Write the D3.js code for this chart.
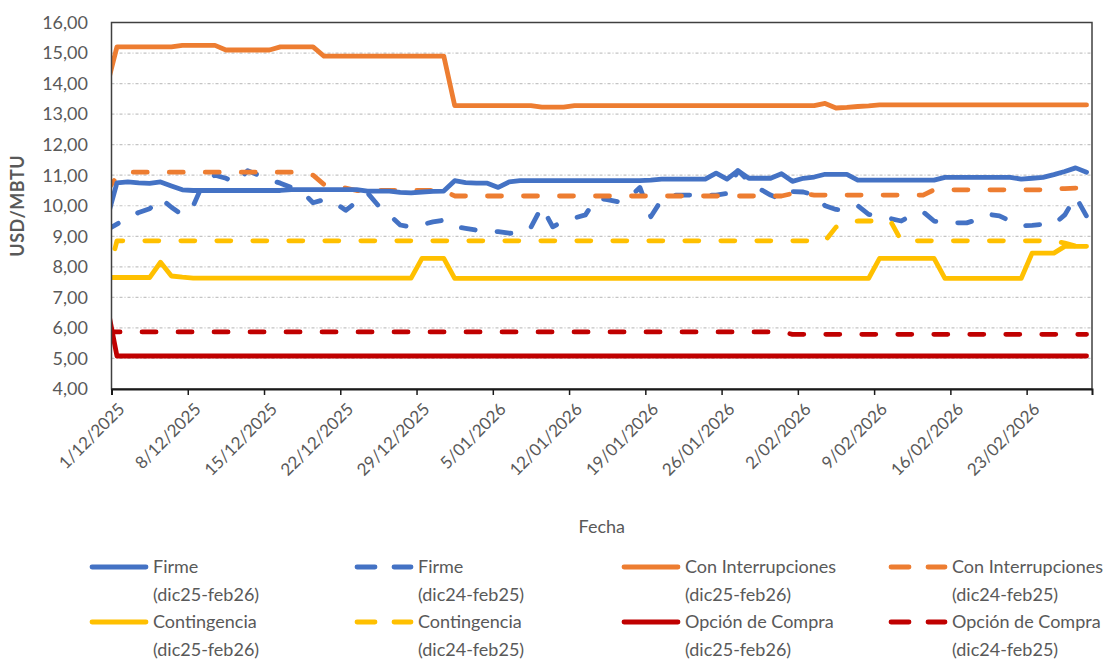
<!DOCTYPE html>
<html>
<head>
<meta charset="utf-8">
<script src="https://cdn.jsdelivr.net/npm/d3@7"></script>
<style>
  body { margin: 0; background: #fff; }
  svg { font-family: Lato, "Open Sans", sans-serif; }
</style>
</head>
<body>
<div id="chart"></div>
<script>
// fechas: 30/11/2025 .. 28/02/2026 (el primer punto queda fuera del eje y se recorta)
var dates = d3.timeDay.range(new Date(2025, 10, 30), new Date(2026, 2, 1));

var tickLabels = ["1/12/2025", "8/12/2025", "15/12/2025", "22/12/2025", "29/12/2025",
    "5/01/2026", "12/01/2026", "19/01/2026", "26/01/2026", "2/02/2026",
    "9/02/2026", "16/02/2026", "23/02/2026"];

var yTicks = [4, 5, 6, 7, 8, 9, 10, 11, 12, 13, 14, 15, 16];

var firme25 = [9.45,
    10.75, 10.78, 10.75, 10.73, 10.78, 10.65, 10.52, 10.50, 10.50, 10.50,
    10.50, 10.50, 10.50, 10.50, 10.50, 10.50, 10.53, 10.53, 10.53, 10.53,
    10.53, 10.53, 10.53, 10.48, 10.48, 10.48, 10.44, 10.42, 10.45, 10.47,
    10.48, 10.82, 10.76, 10.74, 10.74, 10.60, 10.78, 10.82, 10.82, 10.82,
    10.82, 10.82, 10.82, 10.82, 10.82, 10.82, 10.82, 10.82, 10.82, 10.84,
    10.87, 10.87, 10.87, 10.87, 10.87, 11.07, 10.87, 11.15, 10.90, 10.90,
    10.90, 11.05, 10.80, 10.90, 10.94, 11.03, 11.03, 11.03, 10.84, 10.84,
    10.84, 10.84, 10.84, 10.84, 10.84, 10.84, 10.93, 10.93, 10.93, 10.93,
    10.93, 10.93, 10.93, 10.87, 10.90, 10.93, 11.02, 11.12, 11.24, 11.10];

var firme24 = [9.20,
    9.40, 9.60, 9.78, 9.90, 10.25, 9.95, 9.70, 10.00, 10.80, 11.00,
    10.90, 10.75, 11.15, 11.00, 10.85, 10.74, 10.60, 10.45, 10.10, 10.20,
    10.10, 9.85, 10.13, 10.42, 10.00, 9.70, 9.37, 9.30, 9.38, 9.47,
    9.53, 9.32, 9.26, 9.20, 9.20, 9.15, 9.10, 9.10, 9.30, 9.97,
    9.31, 9.50, 9.60, 9.70, 10.25, 10.20, 10.13, 10.25, 10.60, 9.64,
    10.20, 10.35, 10.35, 10.35, 10.35, 10.35, 10.40, 11.15, 10.80, 10.55,
    10.35, 10.20, 10.46, 10.45, 10.35, 10.00, 9.88, 9.85, 10.00, 9.72,
    9.65, 9.58, 9.50, 9.70, 9.80, 9.50, 9.44, 9.44, 9.44, 9.55,
    9.72, 9.67, 9.50, 9.34, 9.36, 9.39, 9.39, 9.70, 10.30, 9.66];

var inter25 = [13.80,
    15.20, 15.20, 15.20, 15.20, 15.20, 15.20, 15.25, 15.25, 15.25, 15.25,
    15.10, 15.10, 15.10, 15.10, 15.10, 15.20, 15.20, 15.20, 15.20, 14.90,
    14.90, 14.90, 14.90, 14.90, 14.90, 14.90, 14.90, 14.90, 14.90, 14.90,
    14.90, 13.28, 13.28, 13.28, 13.28, 13.28, 13.28, 13.28, 13.28, 13.23,
    13.23, 13.23, 13.28, 13.28, 13.28, 13.28, 13.28, 13.28, 13.28, 13.28,
    13.28, 13.28, 13.28, 13.28, 13.28, 13.28, 13.28, 13.28, 13.28, 13.28,
    13.28, 13.28, 13.28, 13.28, 13.28, 13.35, 13.20, 13.22, 13.25, 13.27,
    13.30, 13.30, 13.30, 13.30, 13.30, 13.30, 13.30, 13.30, 13.30, 13.30,
    13.30, 13.30, 13.30, 13.30, 13.30, 13.30, 13.30, 13.30, 13.30, 13.30];

var inter24 = [10.45,
    10.95, 11.10, 11.10, 11.10, 11.10, 11.10, 11.10, 11.10, 11.10, 11.10,
    11.10, 11.10, 11.10, 11.10, 11.10, 11.10, 11.10, 11.10, 11.00, 10.70,
    10.60, 10.58, 10.50, 10.50, 10.50, 10.50, 10.50, 10.50, 10.50, 10.50,
    10.50, 10.32, 10.32, 10.32, 10.32, 10.32, 10.32, 10.32, 10.32, 10.32,
    10.32, 10.32, 10.32, 10.32, 10.32, 10.32, 10.32, 10.32, 10.32, 10.32,
    10.32, 10.32, 10.32, 10.32, 10.32, 10.32, 10.32, 10.32, 10.32, 10.32,
    10.32, 10.32, 10.40, 10.40, 10.35, 10.35, 10.35, 10.35, 10.35, 10.35,
    10.35, 10.35, 10.35, 10.35, 10.35, 10.52, 10.52, 10.52, 10.52, 10.52,
    10.52, 10.52, 10.52, 10.52, 10.52, 10.52, 10.56, 10.56, 10.58, 10.58];

var cont25 = [7.65,
    7.65, 7.65, 7.65, 7.65, 8.15, 7.70, 7.66, 7.63, 7.63, 7.63,
    7.63, 7.63, 7.63, 7.63, 7.63, 7.63, 7.63, 7.63, 7.63, 7.63,
    7.63, 7.63, 7.63, 7.63, 7.63, 7.63, 7.63, 7.63, 8.28, 8.28,
    8.28, 7.62, 7.62, 7.62, 7.62, 7.62, 7.62, 7.62, 7.62, 7.62,
    7.62, 7.62, 7.62, 7.62, 7.62, 7.62, 7.62, 7.62, 7.62, 7.62,
    7.62, 7.62, 7.62, 7.62, 7.62, 7.62, 7.62, 7.62, 7.62, 7.62,
    7.62, 7.62, 7.62, 7.62, 7.62, 7.62, 7.62, 7.62, 7.62, 7.62,
    8.28, 8.28, 8.28, 8.28, 8.28, 8.28, 7.62, 7.62, 7.62, 7.62,
    7.62, 7.62, 7.62, 7.62, 8.45, 8.45, 8.45, 8.67, 8.67, 8.67];

var cont24 = [7.45,
    8.85, 8.85, 8.85, 8.85, 8.85, 8.85, 8.85, 8.85, 8.85, 8.85,
    8.85, 8.85, 8.85, 8.85, 8.85, 8.85, 8.85, 8.85, 8.85, 8.85,
    8.85, 8.85, 8.85, 8.85, 8.85, 8.85, 8.85, 8.85, 8.85, 8.85,
    8.85, 8.85, 8.85, 8.85, 8.85, 8.85, 8.85, 8.85, 8.85, 8.85,
    8.85, 8.85, 8.85, 8.85, 8.85, 8.85, 8.85, 8.85, 8.85, 8.85,
    8.85, 8.85, 8.85, 8.85, 8.85, 8.85, 8.85, 8.85, 8.85, 8.85,
    8.85, 8.85, 8.85, 8.85, 8.85, 8.85, 9.30, 9.45, 9.50, 9.50,
    9.50, 9.50, 8.85, 8.85, 8.85, 8.85, 8.85, 8.85, 8.85, 8.85,
    8.85, 8.85, 8.85, 8.85, 8.85, 8.85, 8.85, 8.78, 8.68, 8.68];

var opc25 = [6.92,
    5.08, 5.08, 5.08, 5.08, 5.08, 5.08, 5.08, 5.08, 5.08, 5.08,
    5.08, 5.08, 5.08, 5.08, 5.08, 5.08, 5.08, 5.08, 5.08, 5.08,
    5.08, 5.08, 5.08, 5.08, 5.08, 5.08, 5.08, 5.08, 5.08, 5.08,
    5.08, 5.08, 5.08, 5.08, 5.08, 5.08, 5.08, 5.08, 5.08, 5.08,
    5.08, 5.08, 5.08, 5.08, 5.08, 5.08, 5.08, 5.08, 5.08, 5.08,
    5.08, 5.08, 5.08, 5.08, 5.08, 5.08, 5.08, 5.08, 5.08, 5.08,
    5.08, 5.08, 5.08, 5.08, 5.08, 5.08, 5.08, 5.08, 5.08, 5.08,
    5.08, 5.08, 5.08, 5.08, 5.08, 5.08, 5.08, 5.08, 5.08, 5.08,
    5.08, 5.08, 5.08, 5.08, 5.08, 5.08, 5.08, 5.08, 5.08, 5.08];

var opc24 = [5.87,
    5.87, 5.87, 5.87, 5.87, 5.87, 5.87, 5.87, 5.87, 5.87, 5.87,
    5.87, 5.87, 5.87, 5.87, 5.87, 5.87, 5.87, 5.87, 5.87, 5.87,
    5.87, 5.87, 5.87, 5.87, 5.87, 5.87, 5.87, 5.87, 5.87, 5.87,
    5.87, 5.87, 5.87, 5.87, 5.87, 5.87, 5.87, 5.87, 5.87, 5.87,
    5.87, 5.87, 5.87, 5.87, 5.87, 5.87, 5.87, 5.87, 5.87, 5.87,
    5.87, 5.87, 5.87, 5.87, 5.87, 5.87, 5.87, 5.87, 5.87, 5.87,
    5.87, 5.87, 5.79, 5.79, 5.79, 5.79, 5.79, 5.79, 5.79, 5.79,
    5.79, 5.79, 5.79, 5.79, 5.79, 5.79, 5.79, 5.79, 5.79, 5.79,
    5.79, 5.79, 5.79, 5.79, 5.79, 5.79, 5.79, 5.79, 5.79, 5.79];

var seriesNames = ["Firme", "Firme", "Con Interrupciones", "Con Interrupciones",
    "Contingencia", "Contingencia", "Opción de Compra", "Opción de Compra"];
var seriesPeriods = ["(dic25-feb26)", "(dic24-feb25)", "(dic25-feb26)", "(dic24-feb25)",
    "(dic25-feb26)", "(dic24-feb25)", "(dic25-feb26)", "(dic24-feb25)"];
var seriesColors = ["#4472C4", "#4472C4", "#ED7D31", "#ED7D31",
    "#FFC000", "#FFC000", "#C00000", "#C00000"];
var seriesData = [firme25, firme24, inter25, inter24, cont25, cont24, opc25, opc24];

var width = 1109,
    height = 660,
    plotLeft = 111.5,
    plotRight = 1092,
    plotTop = 22.5,
    plotBottom = 389;

var textColor = "#595959";
var dashes = "14,22";

var svg = d3.select("#chart").append("svg")
    .attr("width", width)
    .attr("height", height);

var parseTick = d3.timeParse("%d/%m/%Y");

var x = d3.scaleTime()
    .domain([new Date(2025, 11, 1), new Date(2026, 2, 1)])
    .range([plotLeft, plotRight]);

var y = d3.scaleLinear()
    .domain([4, 16])
    .range([plotBottom, plotTop]);

// grid
svg.append("g")
    .selectAll("line")
    .data(yTicks.filter(function (d) { return d > 4 && d < 16; }))
    .enter().append("line")
    .attr("x1", plotLeft)
    .attr("x2", plotRight)
    .attr("y1", function (d) { return y(d); })
    .attr("y2", function (d) { return y(d); })
    .attr("stroke", "#c4c4c4")
    .attr("stroke-width", 1.2)
    .attr("stroke-dasharray", "3,2,1,2");

// y labels
svg.append("g")
    .selectAll("text")
    .data(yTicks)
    .enter().append("text")
    .attr("x", 88)
    .attr("y", function (d) { return y(d); })
    .attr("dy", "0.35em")
    .attr("text-anchor", "end")
    .attr("font-size", 18)
    .attr("fill", textColor)
    .text(function (d) { return d3.format(".2f")(d).replace(".", ","); });

svg.append("text")
    .attr("transform", "translate(24," + ((plotTop + plotBottom) / 2) + ") rotate(-90)")
    .attr("text-anchor", "middle")
    .attr("font-size", 18)
    .attr("font-weight", "bold")
    .attr("letter-spacing", 0.5)
    .attr("fill", textColor)
    .text("USD/MBTU");

// lines
svg.append("clipPath")
    .attr("id", "plot-clip")
    .append("rect")
    .attr("x", plotLeft)
    .attr("y", plotTop - 10)
    .attr("width", plotRight - plotLeft)
    .attr("height", plotBottom - plotTop + 20);

var line = d3.line()
    .x(function (d, i) { return x(d3.timeHour.offset(dates[i], 12)); })
    .y(function (d) { return y(d); });

var plot = svg.append("g").attr("clip-path", "url(#plot-clip)");

// dibujar las punteadas primero, las continuas por encima
[1, 3, 5, 7, 0, 2, 4, 6].forEach(function (k) {
    plot.append("path")
        .datum(seriesData[k])
        .attr("d", line)
        .attr("fill", "none")
        .attr("stroke", seriesColors[k])
        .attr("stroke-width", 4.8)
        .attr("stroke-linejoin", "round")
        .attr("stroke-linecap", "round")
        .attr("stroke-dasharray", k % 2 ? dashes : null);
});

// frame and axis
svg.append("rect")
    .attr("x", plotLeft)
    .attr("y", plotTop)
    .attr("width", plotRight - plotLeft)
    .attr("height", plotBottom - plotTop)
    .attr("fill", "none")
    .attr("stroke", "#404040")
    .attr("stroke-width", 1.5);

var xAxis = svg.append("g")
    .attr("transform", "translate(0," + plotBottom + ")")
    .call(d3.axisBottom(x)
        .tickValues(tickLabels.map(parseTick))
        .tickSize(6)
        .tickFormat(""));
xAxis.select(".domain").attr("stroke", "#1a1a1a").attr("stroke-width", 2);
xAxis.selectAll(".tick line").attr("stroke", "#1a1a1a").attr("stroke-width", 1.5);

svg.append("g")
    .selectAll("text")
    .data(tickLabels)
    .enter().append("text")
    .attr("transform", function (d) {
        return "translate(" + (x(parseTick(d)) + 10) + "," + (plotBottom + 17) + ") rotate(-45)";
    })
    .attr("dy", "0.35em")
    .attr("text-anchor", "end")
    .attr("font-size", 17)
    .attr("fill", textColor)
    .text(function (d) { return d; });

svg.append("text")
    .attr("x", (plotLeft + plotRight) / 2)
    .attr("y", 533)
    .attr("text-anchor", "middle")
    .attr("font-size", 18)
    .attr("fill", textColor)
    .text("Fecha");

// legend
var colX = [90, 355, 622, 889],
    rowY = [567, 622];

var legend = svg.append("g")
    .selectAll("g")
    .data(seriesNames)
    .enter().append("g")
    .attr("transform", function (d, i) {
        return "translate(" + colX[i % 4] + "," + rowY[Math.floor(i / 4)] + ")";
    });

legend.append("line")
    .attr("x1", 2)
    .attr("x2", 56)
    .attr("stroke", function (d, i) { return seriesColors[i]; })
    .attr("stroke-width", 4.8)
    .attr("stroke-linecap", "round")
    .attr("stroke-dasharray", function (d, i) { return i % 2 ? "18,19" : null; });

legend.append("text")
    .attr("x", 63)
    .attr("dy", "0.35em")
    .attr("font-size", 18)
    .attr("fill", textColor)
    .text(function (d) { return d; });

legend.append("text")
    .attr("x", 63)
    .attr("y", 28)
    .attr("dy", "0.35em")
    .attr("font-size", 18)
    .attr("fill", textColor)
    .text(function (d, i) { return seriesPeriods[i]; });
</script>
</body>
</html>
